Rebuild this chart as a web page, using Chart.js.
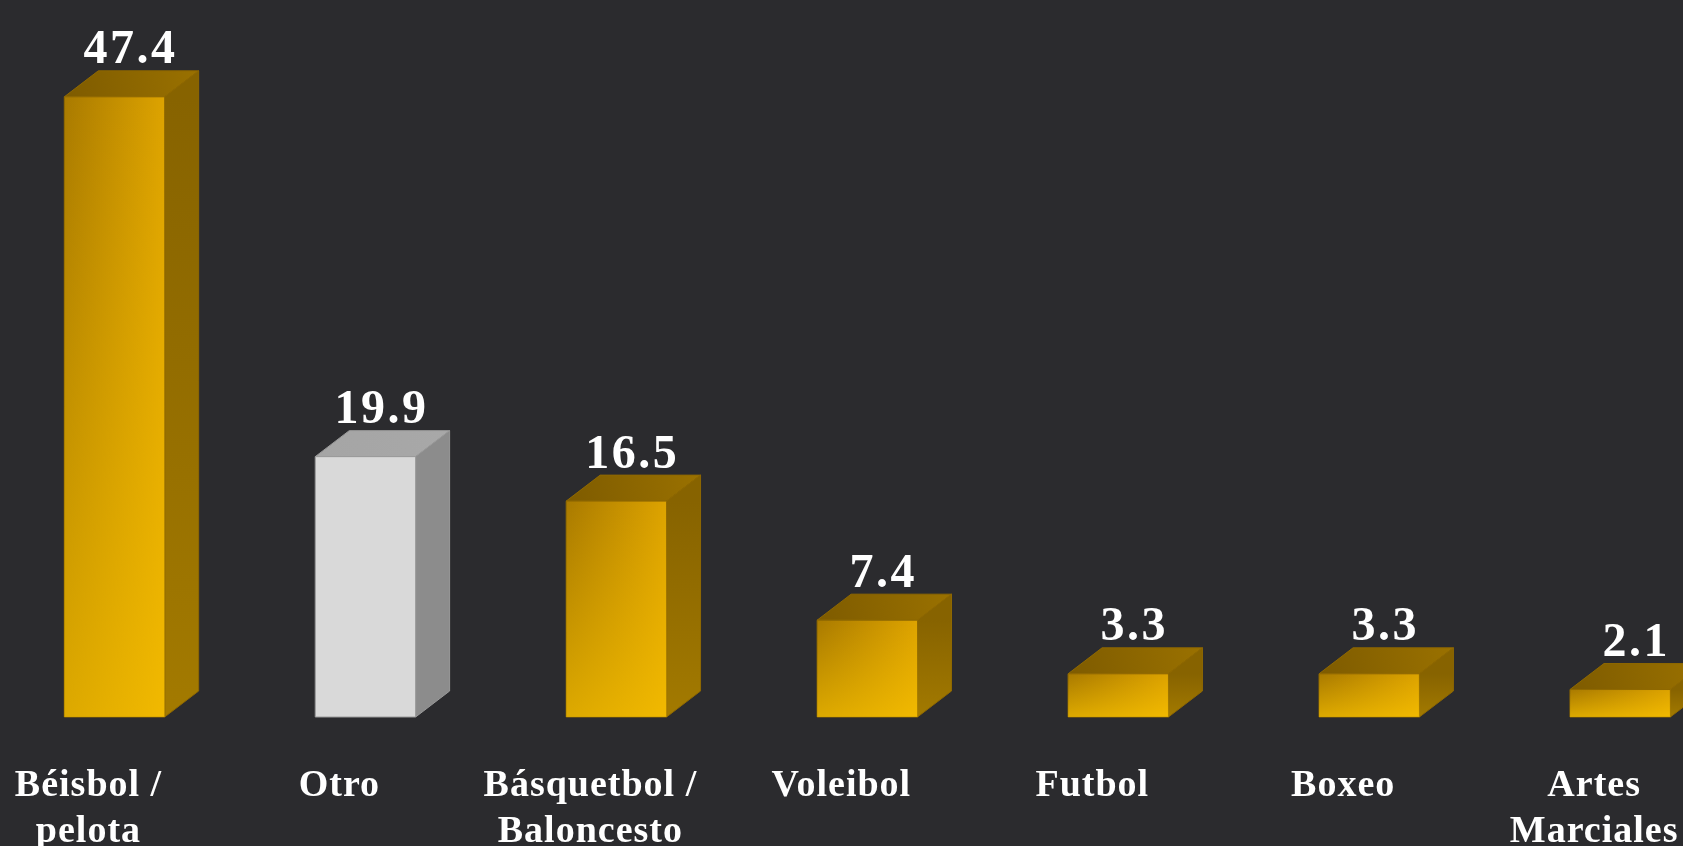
<!DOCTYPE html>
<html>
<head>
<meta charset="utf-8">
<script src="https://cdn.jsdelivr.net/npm/chart.js@4.4.1/dist/chart.umd.min.js"></script>
<style>
  html, body { margin: 0; padding: 0; width: 1683px; height: 846px; overflow: hidden; background: #2b2b2e; }
  #wrap { position: absolute; left: -11px; top: 0; width: 1757px; height: 846px; }
</style>
</head>
<body>
<div id="wrap"><canvas id="grafico"></canvas></div>
<script>
// datos
const deportes = [
  ['Béisbol /', 'pelota'],
  'Otro',
  ['Básquetbol /', 'Baloncesto'],
  'Voleibol',
  'Futbol',
  'Boxeo',
  ['Artes', 'Marciales']
];
const porcentajes = [47.4, 19.9, 16.5, 7.4, 3.3, 3.3, 2.1];
const destacado = 'Otro';

const profX = 34, profY = 26;

const temas = {
  oro: { frente: ['#a97a00', '#dda300'], brillo: 'rgba(255,200,0,0.6)', lado: ['#876300', '#a37a00'], tapa: ['#7e5b00', '#9a7100'], borde: '#8f6800' },
  gris: { frente: ['#d9d9d9', '#d9d9d9'], brillo: 'rgba(255,255,255,0)', lado: ['#8c8c8c', '#8c8c8c'], tapa: ['#a5a5a5', '#a8a8a8'], borde: '#9a9a9a' }
};

function poligono(ctx, pts, fill, borde) {
  ctx.beginPath();
  ctx.moveTo(pts[0][0], pts[0][1]);
  for (let i = 1; i < pts.length; i++) ctx.lineTo(pts[i][0], pts[i][1]);
  ctx.closePath();
  ctx.fillStyle = fill;
  ctx.fill();
  ctx.lineWidth = 1;
  ctx.strokeStyle = borde;
  ctx.stroke();
}

const barras3d = {
  id: 'barras3d',
  beforeDraw(chart) {
    chart.ctx.letterSpacing = '1px';
  },
  afterDatasetsDraw(chart) {
    const ctx = chart.ctx;
    const meta = chart.getDatasetMeta(0);
    ctx.save();
    meta.data.forEach((bar, i) => {
      const etiqueta = Array.isArray(deportes[i]) ? deportes[i].join(' ') : deportes[i];
      const t = etiqueta === destacado ? temas.gris : temas.oro;
      const x0 = bar.x - bar.width / 2, x1 = bar.x + bar.width / 2;
      const y0 = bar.y, yb = bar.base;

      // tapa
      let g = ctx.createLinearGradient(x0, y0, x1 + profX, y0 - profY);
      g.addColorStop(0, t.tapa[0]); g.addColorStop(1, t.tapa[1]);
      poligono(ctx, [[x0, y0], [x0 + profX, y0 - profY], [x1 + profX, y0 - profY], [x1, y0]], g, t.borde);

      // lado
      g = ctx.createLinearGradient(0, y0, 0, yb);
      g.addColorStop(0, t.lado[0]); g.addColorStop(1, t.lado[1]);
      poligono(ctx, [[x1, y0], [x1 + profX, y0 - profY], [x1 + profX, yb - profY], [x1, yb]], g, t.borde);

      // frente
      g = ctx.createLinearGradient(x0, 0, x1, 0);
      g.addColorStop(0, t.frente[0]); g.addColorStop(1, t.frente[1]);
      poligono(ctx, [[x0, y0], [x1, y0], [x1, yb], [x0, yb]], g, t.borde);
      g = ctx.createLinearGradient(0, y0, 0, yb);
      g.addColorStop(0, 'rgba(255,200,0,0)'); g.addColorStop(1, t.brillo);
      ctx.fillStyle = g;
      ctx.fillRect(x0, y0, x1 - x0, yb - y0);

      // valor
      ctx.fillStyle = '#ffffff';
      ctx.font = 'bold 48px "Liberation Serif"';
      ctx.letterSpacing = '2.5px';
      ctx.textAlign = 'center';
      ctx.textBaseline = 'middle';
      ctx.fillText(porcentajes[i].toFixed(1), bar.x + 16, y0 - profY - 20);
    });
    ctx.restore();
  }
};

new Chart(document.getElementById('grafico'), {
  type: 'bar',
  data: {
    labels: deportes,
    datasets: [{
      data: porcentajes,
      backgroundColor: 'rgba(0,0,0,0)',
      borderWidth: 0,
      barPercentage: 0.4,
      categoryPercentage: 1
    }]
  },
  options: {
    responsive: true,
    maintainAspectRatio: false,
    animation: false,
    layout: { padding: 0 },
    plugins: { legend: { display: false }, tooltip: { enabled: false } },
    scales: {
      x: {
        grid: { display: false, drawTicks: false },
        border: { display: false },
        ticks: {
          color: '#ffffff',
          font: { family: 'Liberation Serif', weight: 'bold', size: 38, lineHeight: 1.22 },
          padding: 46,
          labelOffset: -26,
          maxRotation: 0,
          autoSkip: false
        },
        afterFit(scale) { scale.height = 129; }
      },
      y: {
        display: false,
        min: 0,
        max: 54.8
      }
    }
  },
  plugins: [barras3d]
});
</script>
</body>
</html>
